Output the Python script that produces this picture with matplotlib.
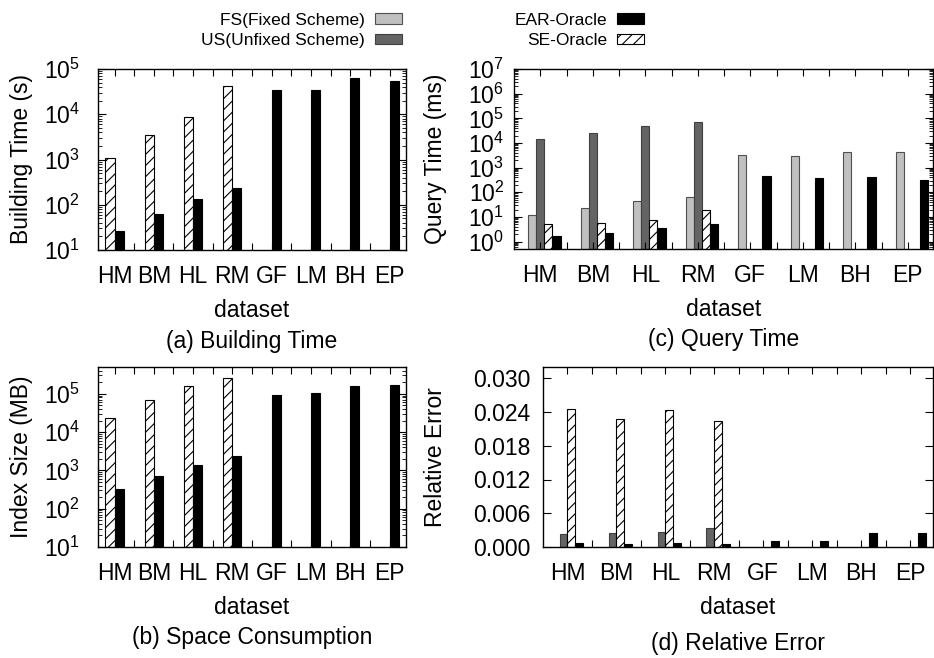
import numpy as np
import matplotlib
matplotlib.use('Agg')
import matplotlib.pyplot as plt
from matplotlib.patches import Patch
from matplotlib.ticker import MultipleLocator, FixedLocator, NullFormatter, LogLocator, FormatStrFormatter

plt.rcParams['font.family'] = ['Liberation Sans', 'DejaVu Sans']
plt.rcParams['mathtext.fontset'] = 'custom'
plt.rcParams['mathtext.rm'] = 'Liberation Sans'
plt.rcParams['mathtext.it'] = 'Liberation Sans'
plt.rcParams['hatch.linewidth'] = 0.8

nan = np.nan
datasets = ['HM', 'BM', 'HL', 'RM', 'GF', 'LM', 'BH', 'EP']

# (a) building time (s)
build_se = [1100, 3400, 8500, 41500, nan, nan, nan, nan]
build_ear = [26, 64, 131, 240, 34700, 34500, 63000, 55000]

# (b) index size (MB)
size_se = [23000, 69000, 156000, 258000, nan, nan, nan, nan]
size_ear = [325, 700, 1350, 2330, 95000, 102000, 156000, 165000]

# (c) query time (ms)
query_fs = [11.5, 22, 43, 67, 3150, 2850, 4260, 4150]
query_us = [14000, 26000, 50000, 73000, nan, nan, nan, nan]
query_se = [5.4, 5.9, 7.3, 20, nan, nan, nan, nan]
query_ear = [1.7, 2.3, 3.5, 5.4, 440, 365, 400, 320]

# (d) relative error
err_us = [0.0023, 0.0025, 0.0027, 0.0033, nan, nan, nan, nan]
err_se = [0.0246, 0.0227, 0.0243, 0.0224, nan, nan, nan, nan]
err_ear = [0.0007, 0.0005, 0.0007, 0.0005, 0.0010, 0.0010, 0.0025, 0.0025]

FS = dict(facecolor='#c0c0c0', edgecolor='#505050', linewidth=0.8)
US = dict(facecolor='#646464', edgecolor='#404040', linewidth=0.8)
EAR = dict(facecolor='black', edgecolor='black', linewidth=0.8)
SE = dict(facecolor='white', edgecolor='black', linewidth=0.8, hatch='///')

W, H = 934, 658
fig = plt.figure(figsize=(W / 100, H / 100), dpi=100)


def px_axes(x0, x1, y0, y1):
    return fig.add_axes([x0 / W, 1 - y1 / H, (x1 - x0) / W, (y1 - y0) / H])


x = np.arange(len(datasets))
FS_TICK = 16.5


def style(ax, xlim, ylabel, caption, ylab_x, tickpad_y, cap_y=-0.50):
    ax.set_xlim(*xlim)
    ax.set_xticks(x)
    ax.set_xticklabels(datasets, fontsize=FS_TICK)
    ax.xaxis.set_minor_locator(FixedLocator(x[:-1] + 0.5))
    ax.tick_params(axis='x', which='both', direction='in', top=True, length=5, width=0.8, pad=11)
    ax.tick_params(axis='y', which='major', direction='in', right=True, length=6, width=0.8,
                   labelsize=FS_TICK, pad=tickpad_y)
    ax.tick_params(axis='y', which='minor', direction='in', right=True, length=3, width=0.6)
    for s in ax.spines.values():
        s.set_linewidth(1.0)
    ax.set_xlabel('dataset', fontsize=FS_TICK, labelpad=8)
    ax.set_ylabel(ylabel, fontsize=FS_TICK)
    ax.yaxis.set_label_coords(ylab_x, 0.5)
    ax.text(0.5, cap_y, caption, transform=ax.transAxes, ha='center', va='center', fontsize=FS_TICK)


def log_y(ax, lo, hi):
    ax.set_yscale('log')
    ax.set_ylim(lo, hi)
    ax.yaxis.set_major_locator(LogLocator(base=10, numticks=12))
    ax.yaxis.set_minor_locator(LogLocator(base=10, subs=np.arange(2, 10), numticks=12))
    ax.yaxis.set_minor_formatter(NullFormatter())


# (a) Building Time
ax = px_axes(98, 406, 69, 250)
ax.bar(x - 0.115, build_se, 0.23, **SE)
ax.bar(x + 0.115, build_ear, 0.23, **EAR)
log_y(ax, 10, 1e5)
style(ax, (-0.42, 7.42), 'Building Time (s)', '(a) Building Time', -0.21, 13, cap_y=-0.505)

# (b) Space Consumption
ax = px_axes(98, 406, 367, 547)
ax.bar(x - 0.115, size_se, 0.23, **SE)
ax.bar(x + 0.115, size_ear, 0.23, **EAR)
log_y(ax, 10, 5e5)
style(ax, (-0.42, 7.42), 'Index Size (MB)', '(b) Space Consumption', -0.21, 13, cap_y=-0.505)

# (c) Query Time
ax = px_axes(514, 933, 69, 249)
bw = 0.155
ax.bar(x - bw, query_fs, bw, **FS)
ax.bar(x, query_us, bw, **US)
ax.bar(x + bw, query_se, bw, **SE)
ax.bar(x + 2 * bw, query_ear, bw, **EAR)
log_y(ax, 0.5, 1e7)
style(ax, (-0.5, 7.48), 'Query Time (ms)', '(c) Query Time', -0.16, 7, cap_y=-0.505)

# (d) Relative Error
ax = px_axes(543, 933, 367, 547)
bw = 0.16
ax.bar(x - bw / 2, err_us, bw, **US)
ax.bar(x + bw / 2, err_se, bw, **SE)
ax.bar(x + 1.5 * bw, err_ear, bw, **EAR)
ax.set_ylim(0, 0.032)
ax.yaxis.set_major_locator(MultipleLocator(0.006))
ax.yaxis.set_major_formatter(FormatStrFormatter('%.3f'))
style(ax, (-0.5, 7.47), 'Relative Error', '(d) Relative Error', -0.245, 9, cap_y=-0.535)

# legend (two columns, gnuplot style: text then sample)
leg_kw = dict(frameon=False, markerfirst=False, fontsize=12.5, handlelength=1.55, handleheight=0.55,
              handletextpad=0.6, labelspacing=0.3, borderpad=0, loc='upper right')
fig.legend([Patch(**FS), Patch(**US)], ['FS(Fixed Scheme)', 'US(Unfixed Scheme)'],
           bbox_to_anchor=(411 / W, 1 - 4 / H), **leg_kw)
fig.legend([Patch(**EAR), Patch(**SE)], ['EAR-Oracle', 'SE-Oracle'],
           bbox_to_anchor=(653 / W, 1 - 4 / H), **leg_kw)

fig.savefig('out.png', dpi=100)
